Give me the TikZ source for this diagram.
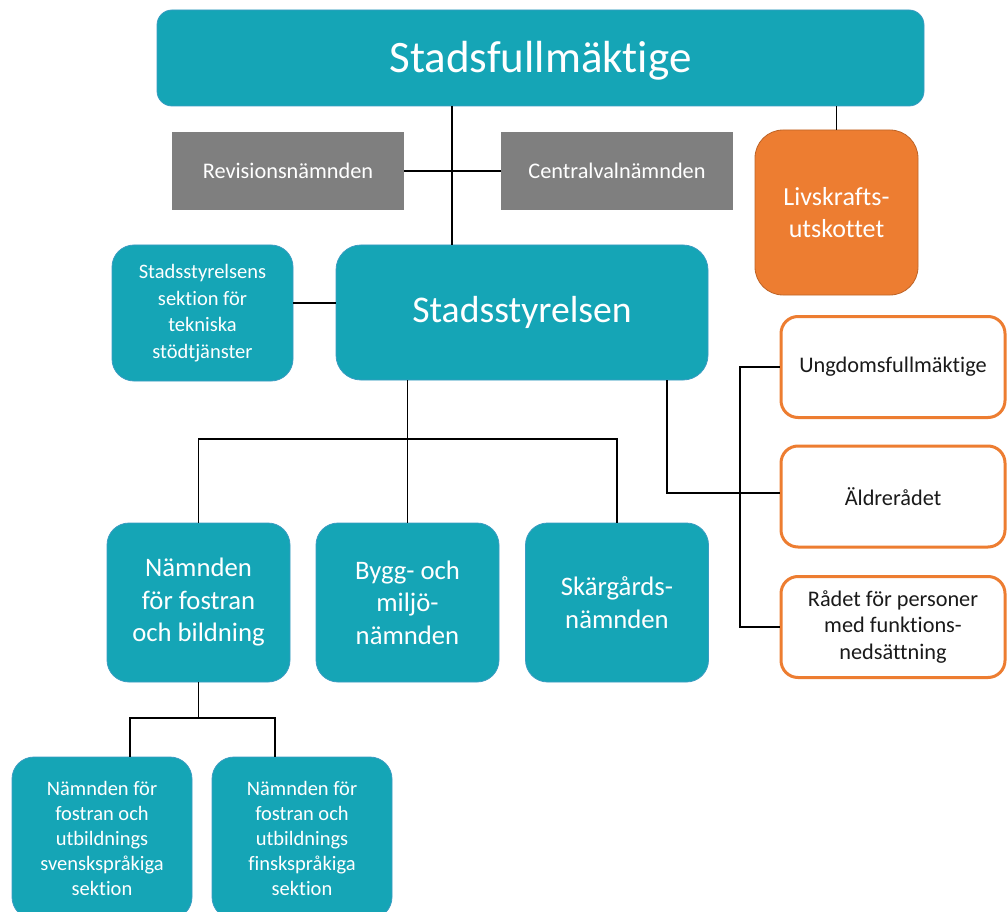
\documentclass[tikz,border=0pt]{standalone}
\usepackage{fontspec}
\setmainfont{Carlito}[Ligatures=NoCommon]
\definecolor{teal1}{HTML}{15A5B6}
\definecolor{tealedge}{HTML}{3A9CC2}
\definecolor{gray1}{HTML}{7F7F7F}
\definecolor{orange1}{HTML}{ED7D31}
\definecolor{ink}{HTML}{1A1A1A}
\tikzset{
  tealbox/.style={fill=teal1, draw=tealedge, line width=0.8pt, text=white, align=center, inner sep=0pt},
  graybox/.style={fill=gray1, draw=none, text=white, align=center, inner sep=0pt,
     minimum width=232, minimum height=78, font=\fontsize{22.3}{27}\selectfont},
  orangebox/.style={fill=orange1, draw=orange1!80!black, line width=0.8pt, text=white, align=center, inner sep=0pt},
  councilbox/.style={fill=white, draw=orange1, line width=3pt, text=ink, align=center, inner sep=0pt,
     rounded corners=17, minimum width=224, minimum height=101, font=\fontsize{22.3}{26.7}\selectfont},
  midbox/.style={tealbox, rounded corners=22, minimum width=183, minimum height=159,
     font=\fontsize{26.7}{32.5}\selectfont},
  lowbox/.style={tealbox, rounded corners=22, minimum width=180, minimum height=162,
     font=\fontsize{20.5}{25}\selectfont},
  conn/.style={draw=black, line width=1.3pt}
}
\begin{document}
\begin{tikzpicture}[x=1pt, y=-1pt]
\clip (0,0) rectangle (1007,912);
\fill[white] (0,0) rectangle (1007,912);

% nodes
\node[tealbox, rounded corners=15, minimum width=767, minimum height=96] (sf) at (540.5,58) {};
\node[text=white, font=\fontsize{45}{54}\selectfont, inner sep=0pt] (sft) at (540.5,61) {Stadsfullmäktige};
\node[graybox] (rev) at (288,171) {Revisionsnämnden};
\node[graybox] (cen) at (617,171) {Centralvalnämnden};
\node[orangebox, rounded corners=28, minimum width=163, minimum height=165,
      font=\fontsize{26}{32.5}\selectfont] (liv) at (836.5,212.5) {Livskrafts-\\utskottet};
\node[tealbox, rounded corners=22, minimum width=181, minimum height=136,
      font=\fontsize{20.5}{26.5}\selectfont] (sek) at (202.5,313)
      {Stadsstyrelsens\\sektion för\\tekniska\\stödtjänster};
\node[tealbox, rounded corners=25, minimum width=372, minimum height=135,
      font=\fontsize{37.7}{45}\selectfont] (ss) at (522,312.5) {Stadsstyrelsen};
\node[councilbox] (ung) at (893,367) {Ungdomsfullmäktige};
\node[councilbox] (ald) at (893,496.5) {Äldrerådet};
\node[councilbox] (rad) at (893,627) {Rådet för personer\\med funktions-\\nedsättning};
\node[midbox] (nam) at (198.5,602.5) {Nämnden\\för fostran\\och bildning};
\node[midbox] (byg) at (407.5,602.5) {Bygg- och\\miljö-\\nämnden};
\node[midbox] (ska) at (617,602.5) {Skärgårds-\\nämnden};
\node[lowbox] (sv) at (102,838) {Nämnden för\\fostran och\\utbildnings\\svenskspråkiga\\sektion};
\node[lowbox] (fi) at (302,838) {Nämnden för\\fostran och\\utbildnings\\finskspråkiga\\sektion};

% helper coordinates
\coordinate (xa) at (452,0);
\coordinate (ya) at (0,303);
\coordinate (tb) at (0,439);
\coordinate (xg) at (667,493);
\coordinate (bx) at (740,0);
\coordinate (l1) at (130,718);
\coordinate (l2) at (275,718);

% connectors
\draw[conn] (sf.south -| xa) -- (ss.north -| xa);
\draw[conn] (rev.east) -- (cen.west);
\draw[conn] (sf.south -| liv.north) -- (liv.north);
\draw[conn] (sek.east |- ya) -- (ss.west |- ya);
\draw[conn] (ss.south -| byg.north) -- (byg.north);
\draw[conn] (nam.north) -- (nam.north |- tb) -- (ska.north |- tb) -- (ska.north);
\draw[conn] (ss.south -| xg) -- (xg) -- (ald.west |- xg);
\draw[conn] (ung.west) -| (bx |- rad.west) -- (rad.west);
\draw[conn] (nam.south) -- (nam.south |- l1);
\draw[conn] (sv.north -| l1) -- (l1) -- (l2) -- (fi.north -| l2);
\end{tikzpicture}
\end{document}
